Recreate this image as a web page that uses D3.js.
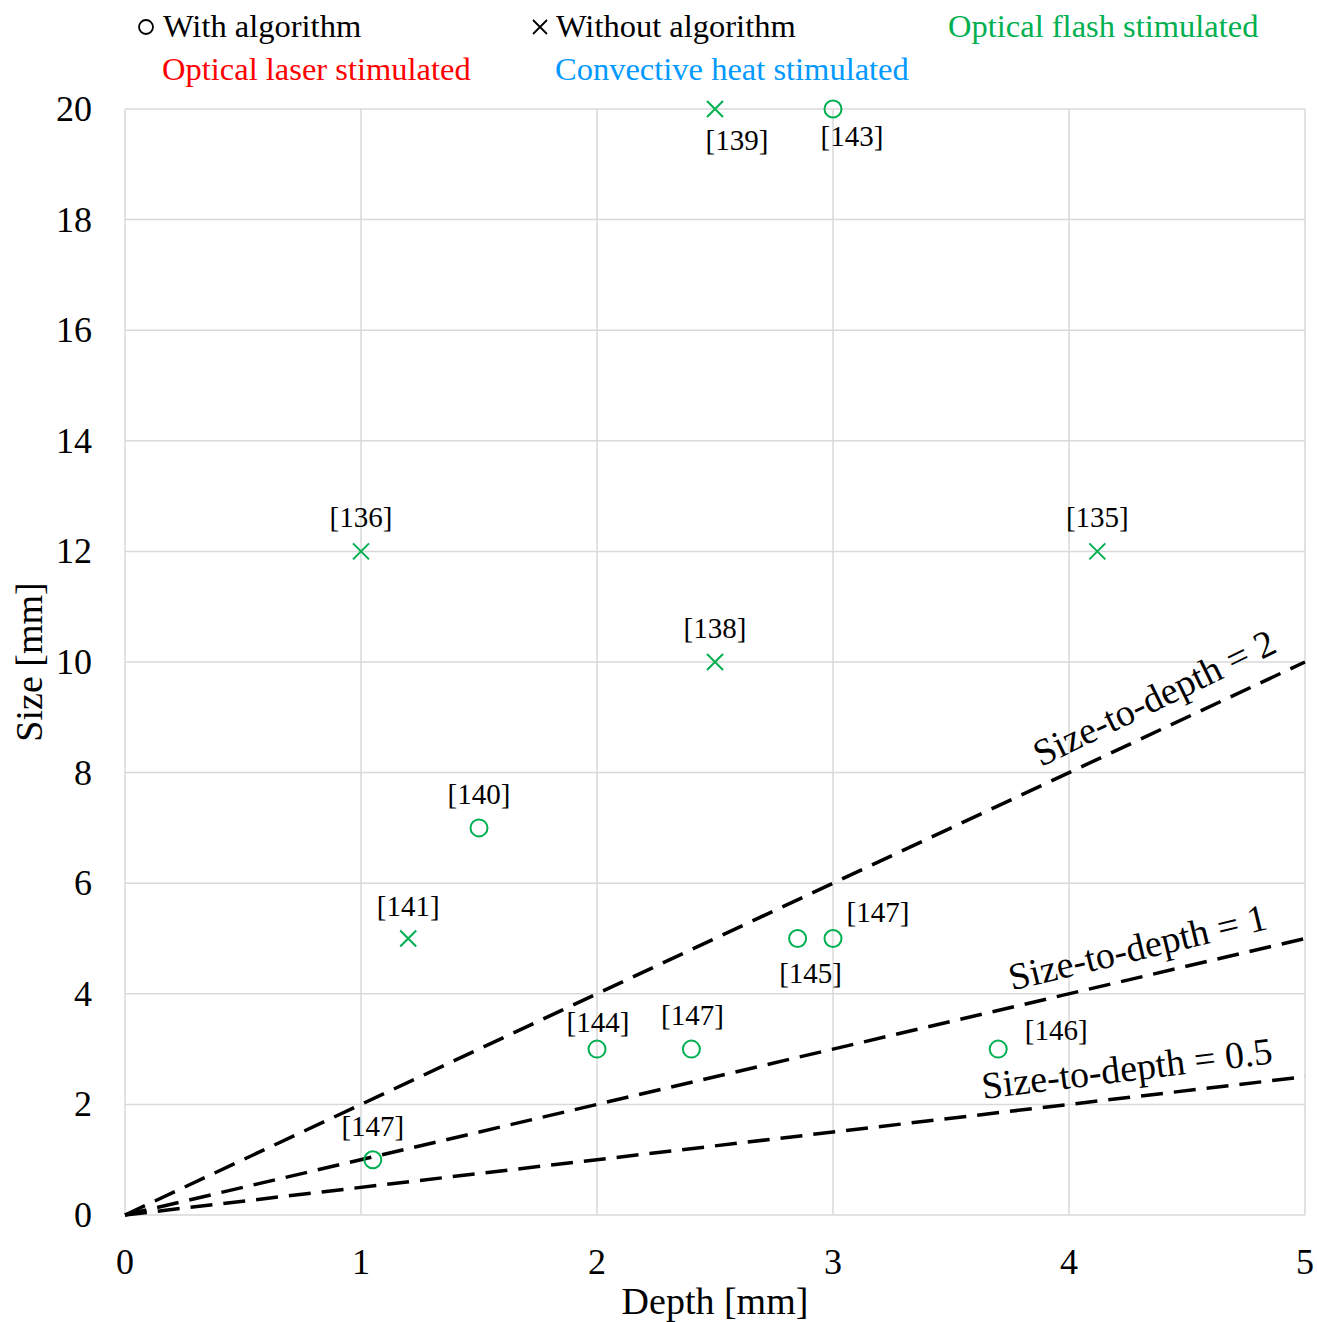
<!DOCTYPE html>
<html>
<head>
<meta charset="utf-8">
<script src="https://cdn.jsdelivr.net/npm/d3@7"></script>
<style>
  body { margin: 0; background: #fff; }
  svg { font-family: "Liberation Serif", "Times New Roman", serif; }
  .grid line { stroke: #d9d9d9; stroke-width: 1.5px; }
  .tick-label { font-size: 36px; fill: #000; }
  .axis-title { font-size: 38px; fill: #000; }
  .legend text { font-size: 32.5px; }
  .ref { font-size: 29px; fill: #000; }
  .ratio-label { font-size: 38px; fill: #000; }
</style>
</head>
<body>
<svg id="chart" width="1317" height="1322"></svg>
<script>
// data
var depth  = [1.0, 4.12, 2.5, 2.5, 3.0, 1.5, 1.2, 2.85, 3.0, 2.0, 2.4, 3.7, 1.05];
var size   = [12, 12, 10, 20, 20, 7, 5, 5, 5, 3, 3, 3, 1];
var marker = ["x", "x", "x", "x", "o", "o", "x", "o", "o", "o", "o", "o", "o"];
var refs   = ["[136]", "[135]", "[138]", "[139]", "[143]", "[140]", "[141]", "[145]", "[147]", "[144]", "[147]", "[146]", "[147]"];
var method = ["flash", "flash", "flash", "flash", "flash", "flash", "flash", "flash", "flash", "flash", "flash", "flash", "flash"];

var ratios = [2, 1, 0.5];
var ratioNames = ["Size-to-depth = 2", "Size-to-depth = 1", "Size-to-depth = 0.5"];

var xTicks = [0, 1, 2, 3, 4, 5];
var yTicks = [0, 2, 4, 6, 8, 10, 12, 14, 16, 18, 20];

// layout: label offsets [dx, dy] from marker (baseline)
var refOffset = [[0, -24], [0, -24], [0, -24], [22, 41], [19, 37], [0, -24], [0, -23],
                 [13, 44], [45, -17], [1, -17], [1, -24], [58, -9], [0, -24]];
// layout: ratio label centre (data coords) and rotation
var ratioPos = [[4.36, 9.36, -26], [4.29, 4.85, -13.5], [4.245, 2.66, -7]];

var colors = { flash: "#00b050", laser: "#ff0000", convective: "#0099ff" };

var svg = d3.select("#chart");
var x = d3.scaleLinear().domain([0, 5]).range([125, 1305]);
var y = d3.scaleLinear().domain([0, 20]).range([1215, 109]);

// grid
var grid = svg.append("g").attr("class", "grid");
grid.selectAll("line.v").data(xTicks).enter().append("line")
    .attr("x1", function(d) { return x(d); }).attr("x2", function(d) { return x(d); })
    .attr("y1", y(0)).attr("y2", y(20));
grid.selectAll("line.h").data(yTicks).enter().append("line")
    .attr("x1", x(0)).attr("x2", x(5))
    .attr("y1", function(d) { return y(d); }).attr("y2", function(d) { return y(d); });

// tick labels
svg.selectAll("text.xt").data(xTicks).enter().append("text")
    .attr("class", "tick-label")
    .attr("x", function(d) { return x(d); })
    .attr("y", 1274)
    .attr("text-anchor", "middle")
    .text(function(d) { return d; });
svg.selectAll("text.yt").data(yTicks).enter().append("text")
    .attr("class", "tick-label")
    .attr("x", 92)
    .attr("y", function(d) { return y(d) + 12; })
    .attr("text-anchor", "end")
    .text(function(d) { return d; });

// axis titles
svg.append("text").attr("class", "axis-title")
    .attr("x", x(2.5)).attr("y", 1314).attr("text-anchor", "middle")
    .text("Depth [mm]");
svg.append("text").attr("class", "axis-title")
    .attr("transform", "translate(42," + y(10) + ") rotate(-90)")
    .attr("text-anchor", "middle")
    .text("Size [mm]");

// size-to-depth lines
var line = d3.line().x(function(d) { return x(d[0]); }).y(function(d) { return y(d[1]); });
svg.selectAll("path.ratio").data(ratios).enter().append("path")
    .attr("d", function(r) { return line([[0, 0], [5, 5 * r]]); })
    .attr("fill", "none")
    .attr("stroke", "#000")
    .attr("stroke-width", 3.5)
    .attr("stroke-dasharray", "22,11");
svg.selectAll("text.ratio").data(ratioNames).enter().append("text")
    .attr("class", "ratio-label")
    .attr("text-anchor", "middle")
    .attr("dy", "0.35em")
    .attr("transform", function(d, i) {
        var p = ratioPos[i];
        return "translate(" + x(p[0]) + "," + y(p[1]) + ") rotate(" + p[2] + ")";
    })
    .text(function(d) { return d; });

// points
var pts = svg.append("g").selectAll("g").data(depth).enter().append("g")
    .attr("transform", function(d, i) { return "translate(" + x(d) + "," + y(size[i]) + ")"; });
pts.each(function(d, i) {
    var g = d3.select(this);
    if (marker[i] === "o") {
        g.append("circle").attr("r", 8.5)
            .attr("fill", "none")
            .attr("stroke", colors[method[i]])
            .attr("stroke-width", 2);
    } else {
        g.append("path")
            .attr("d", "M-8,-8L8,8M-8,8L8,-8")
            .attr("stroke", colors[method[i]])
            .attr("stroke-width", 2);
    }
    g.append("text").attr("class", "ref")
        .attr("text-anchor", "middle")
        .attr("x", refOffset[i][0])
        .attr("y", refOffset[i][1])
        .text(refs[i]);
});

// legend
var lg = svg.append("g").attr("class", "legend");
lg.append("circle").attr("cx", 146).attr("cy", 27).attr("r", 7)
    .attr("fill", "none").attr("stroke", "#000").attr("stroke-width", 1.8);
lg.append("text").attr("x", 163).attr("y", 37).attr("fill", "#000").text("With algorithm");
lg.append("path").attr("d", "M533,20L547,34M533,34L547,20")
    .attr("stroke", "#000").attr("stroke-width", 1.8);
lg.append("text").attr("x", 556).attr("y", 37).attr("fill", "#000").text("Without algorithm");
lg.append("text").attr("x", 948).attr("y", 37).attr("fill", colors.flash).text("Optical flash stimulated");
lg.append("text").attr("x", 162).attr("y", 80).attr("fill", colors.laser).text("Optical laser stimulated");
lg.append("text").attr("x", 555).attr("y", 80).attr("fill", colors.convective).text("Convective heat stimulated");
</script>
</body>
</html>
